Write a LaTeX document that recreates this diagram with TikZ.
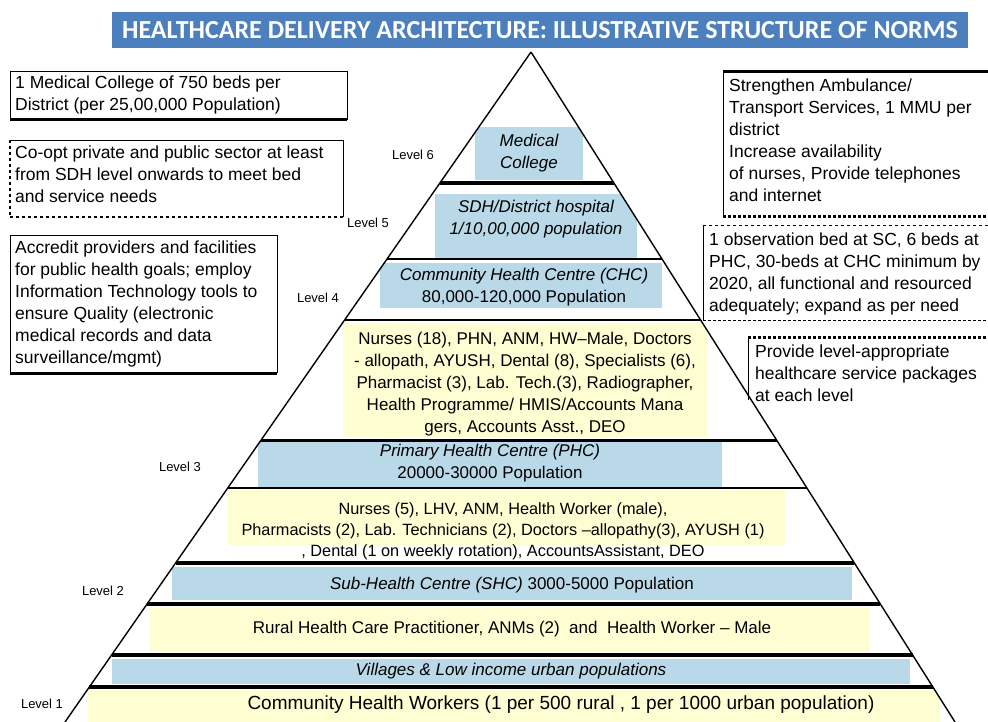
\documentclass[tikz,border=0pt]{standalone}
\usepackage{fontspec}
\setmainfont{Liberation Sans}
\newfontfamily\titlefont{Carlito}
\usetikzlibrary{positioning}

\definecolor{bandblue}{RGB}{185,217,232}
\definecolor{bandyellow}{RGB}{255,254,210}
\definecolor{titleblue}{RGB}{76,127,190}

\tikzset{
	band/.style={align=center, inner sep=0pt, font=\fontsize{17}{22}\selectfont},
	note/.style={align=left, anchor=north west, inner sep=0pt, font=\fontsize{17.5}{22}\selectfont},
	lvl/.style={inner sep=0pt, font=\fontsize{13}{15}\selectfont}
}

\begin{document}
\begin{tikzpicture}[x=1pt,y=-1pt]
	\useasboundingbox (0,0) rectangle (988,722);

	% title
	\fill[titleblue] (112,12) rectangle (968,48);
	\node[text=white, font=\titlefont\bfseries\fontsize{26}{28}\selectfont] (title) at (540,30) {HEALTHCARE DELIVERY ARCHITECTURE: ILLUSTRATIVE STRUCTURE OF NORMS};

	\coordinate (apex) at (531,52);
	\coordinate (baseL) at (65,722);
	\coordinate (baseR) at (955,722);

	\begin{scope}
		\clip (apex) -- (baseL) -- (baseR) -- cycle;
		\fill[bandblue] (475,127) rectangle (583,180);
		\fill[bandblue] (435,194) rectangle (637,258);
		\fill[bandblue] (380,263) rectangle (662,308);
		\fill[bandyellow] (343,323) rectangle (707,437);
		\fill[bandblue] (258,442) rectangle (722,487);
		\fill[bandyellow] (228,490) rectangle (785,545);
		\fill[bandblue] (172,567) rectangle (852,600);
		\fill[bandyellow] (150,607) rectangle (870,652);
		\fill[bandblue] (112,659) rectangle (910,684);
		\fill[bandyellow] (88,690) rectangle (940,722);
	\end{scope}

	\draw[line width=1.4pt] (apex) -- (baseL);
	\draw[line width=1.4pt] (apex) -- (baseR);

	\draw[line width=3.5pt] (440,183) -- (614,183);
	\draw[line width=1.2pt] (387,259) -- (662,259);
	\draw[line width=2pt] (345,320) -- (701,320);
	\draw[line width=3pt] (261,440) -- (777,440);
	\draw[line width=1.5pt] (228,488) -- (807,488);
	\draw[line width=4pt] (176,563) -- (854,563);
	\draw[line width=4pt] (147,604) -- (880,604);
	\draw[line width=4pt] (112,655) -- (913,655);
	\draw[line width=3.5pt] (89,687) -- (933,687);

	% levels of the pyramid
	\node[band, font=\itshape\fontsize{17}{22}\selectfont] (medcol) at (529,153) {Medical\\College};
	\node[band, font=\itshape\fontsize{17}{22}\selectfont] (sdh) at (536,219) {SDH/District hospital\\1/10,00,000 population};
	\node[band] (chc) at (524,287) {\textit{Community Health Centre (CHC)}\\80,000-120,000 Population};
	\node[band] (chcstaff) at (525,384) {Nurses (18), PHN, ANM, HW–Male, Doctors\\- allopath, AYUSH, Dental (8), Specialists (6),\\Pharmacist (3), Lab. Tech.(3), Radiographer,\\Health Programme/ HMIS/Accounts Mana\\gers, Accounts Asst., DEO};
	\node[band] (phc) at (490,463) {\textit{Primary Health Centre (PHC)}\\20000-30000 Population};
	\node[band, font=\fontsize{16.3}{21}\selectfont] (phcstaff) at (503,531) {Nurses (5), LHV, ANM, Health Worker (male),\\Pharmacists (2), Lab. Technicians (2), Doctors –allopathy(3), AYUSH (1)\\, Dental (1 on weekly rotation), AccountsAssistant, DEO};
	\node[band] (shc) at (512,585) {\textit{Sub-Health Centre (SHC)} 3000-5000 Population};
	\node[band] (shcstaff) at (512,629) {Rural Health Care Practitioner, ANMs (2)\ \ and\ \ Health Worker – Male};
	\node[band, font=\itshape\fontsize{17}{22}\selectfont] (village) at (511,671) {Villages \& Low income urban populations};
	\node[band, font=\fontsize{19}{22}\selectfont] (chw) at (561,705) {Community Health Workers (1 per 500 rural , 1 per 1000 urban population)};

	\node[lvl] (lvl6) at (413,155) {Level 6};
	\node[lvl] (lvl5) at (368,223) {Level 5};
	\node[lvl] (lvl4) at (318,298) {Level 4};
	\node[lvl] (lvl3) at (180,467) {Level 3};
	\node[lvl] (lvl2) at (103,591) {Level 2};
	\node[lvl] (lvl1) at (42,704) {Level 1};

	% notes on the left
	\draw (10,120) -- (10,71) -- (347,71) -- (347,120);
	\draw[line width=3pt] (10,120) -- (347,120);
	\node[note] (medbeds) at (15,76) {1 Medical College of 750 beds per\\District (per 25,00,000 Population)};

	\draw (10,140) -- (343,140) -- (343,217);
	\draw[dashed, line width=2.5pt] (10,140) -- (10,217);
	\draw[dashed, line width=1.2pt] (10,217) -- (343,217);
	\node[note] (coopt) at (15,146) {Co-opt private and public sector at least\\from SDH level onwards to meet bed\\and service needs};

	\draw (10,373) -- (10,235) -- (277,235) -- (277,373);
	\draw[line width=3pt] (10,373) -- (277,373);
	\node[note] (accredit) at (15,241) {Accredit providers and facilities\\for public health goals; employ\\Information Technology tools to\\ensure Quality (electronic\\medical records and data\\surveillance/mgmt)};

	% notes on the right
	\draw[line width=3pt] (723,72) -- (988,72);
	\draw (723,72) -- (723,217);
	\draw[dotted, line width=3pt] (723,217) -- (988,217);
	\node[note] (transport) at (729,79) {Strengthen Ambulance/\\Transport Services, 1 MMU per\\district\\Increase availability\\of nurses, Provide telephones\\and internet};

	\draw[dashed] (703,225) -- (988,225);
	\draw (703,225) -- (703,320);
	\draw[densely dashed] (703,320) -- (988,320);
	\node[note] (beds) at (709,233) {1 observation bed at SC, 6 beds at\\PHC, 30-beds at CHC minimum by\\2020, all functional and resourced\\adequately; expand as per need};

	\draw[dotted, line width=3pt] (748,337) -- (988,337);
	\draw (748,337) -- (748,400);
	\node[note] (packages) at (755,345) {Provide level-appropriate\\healthcare service packages\\at each level};
\end{tikzpicture}
\end{document}
